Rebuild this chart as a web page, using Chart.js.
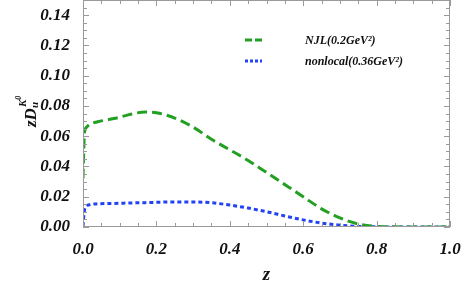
<!DOCTYPE html>
<html>
<head>
<meta charset="utf-8">
<script src="https://cdn.jsdelivr.net/npm/chart.js@4.4.0/dist/chart.umd.min.js"></script>
<style>
  html, body { margin: 0; padding: 0; background: #fff; }
  #wrap { width: 463px; height: 290px; }
</style>
</head>
<body>
<div id="wrap"><canvas id="mychart"></canvas></div>
<script>
// values
const zVals = [0, 0.002, 0.004, 0.01, 0.02, 0.04, 0.07, 0.1, 0.13, 0.17, 0.2, 0.25, 0.3, 0.35, 0.4, 0.45, 0.5, 0.55, 0.6, 0.65, 0.7, 0.75, 0.8, 0.85, 0.9, 1.0]
const njlVals = [0.032, 0.05, 0.062, 0.066, 0.068, 0.0695, 0.071, 0.0725, 0.0745, 0.076, 0.0755, 0.072, 0.066, 0.058, 0.051, 0.044, 0.036, 0.028, 0.020, 0.012, 0.006, 0.002, 0.0004, 0.0001, 0, 0]
const nonlocalVals = [0.0005, 0.007, 0.011, 0.0138, 0.0148, 0.0153, 0.0155, 0.0157, 0.0159, 0.0161, 0.0163, 0.0166, 0.0166, 0.016, 0.0145, 0.0125, 0.0101, 0.0073, 0.0047, 0.0026, 0.0012, 0.0004, 0.0001, 0, 0, 0]
const seriesNames = ['NJL(0.2GeV²)', 'nonlocal(0.36GeV²)']
const xLabelTicks = [0, 0.2, 0.4, 0.6, 0.8, 1.0]
const yLabelTicks = [0, 0.02, 0.04, 0.06, 0.08, 0.10, 0.12, 0.14]

const green = '#23a023'
const blue = '#2142f5'
const frameColor = '#9a9a9a'
const serif = '"Liberation Serif", "Times New Roman", serif'

function toPoints(ys) {
  return zVals.map(function (z, i) { return { x: z, y: ys[i] } })
}

function isLabelTick(v, list) {
  return list.some(function (t) { return Math.abs(t - v) < 1e-6 })
}

// frame with inward ticks, axis title with sub/superscript, legend
const decorPlugin = {
  id: 'decor',
  afterDraw(chart) {
    const ctx = chart.ctx
    const a = chart.chartArea
    const xs = chart.scales.x
    const ys = chart.scales.y
    ctx.save()
    ctx.strokeStyle = frameColor
    ctx.lineWidth = 1
    ctx.strokeRect(a.left + 0.5, a.top + 0.5, a.right - a.left - 1, a.bottom - a.top - 1)
    ctx.beginPath()
    for (let i = 0; i <= 20; i++) {
      const v = i * 0.05
      const px = Math.round(xs.getPixelForValue(v)) + 0.5
      const len = isLabelTick(v, xLabelTicks) ? 6 : 4
      ctx.moveTo(px, a.bottom); ctx.lineTo(px, a.bottom - len)
      ctx.moveTo(px, a.top); ctx.lineTo(px, a.top + len)
    }
    for (let i = 0; i <= 30; i++) {
      const v = i * 0.005
      const py = Math.round(ys.getPixelForValue(v)) + 0.5
      const len = isLabelTick(v, yLabelTicks) ? 6 : 4
      ctx.moveTo(a.left, py); ctx.lineTo(a.left + len, py)
      ctx.moveTo(a.right, py); ctx.lineTo(a.right - len, py)
    }
    ctx.stroke()

    // y title: z D_u^{K^0}
    ctx.fillStyle = '#111'
    ctx.translate(36, 127)
    ctx.rotate(-Math.PI / 2)
    ctx.textBaseline = 'alphabetic'
    ctx.textAlign = 'left'
    let x = 0
    ctx.font = 'italic bold 17px ' + serif
    ctx.fillText('zD', x, 0)
    x += ctx.measureText('zD').width
    ctx.font = 'italic bold 11px ' + serif
    ctx.fillText('u', x, 2)
    ctx.fillText('K', x + 1, -10)
    const kw = ctx.measureText('K').width
    ctx.font = 'italic bold 8px ' + serif
    ctx.fillText('0', x + 1 + kw, -15)
    ctx.setTransform(1, 0, 0, 1, 0, 0)

    // legend
    const rows = [
      { y: 40, color: green, dash: [7, 3], name: seriesNames[0] },
      { y: 61, color: blue, dash: [3, 2], name: seriesNames[1] }
    ]
    rows.forEach(function (r) {
      ctx.strokeStyle = r.color
      ctx.lineWidth = 3
      ctx.setLineDash(r.dash)
      ctx.beginPath()
      ctx.moveTo(245, r.y); ctx.lineTo(262, r.y)
      ctx.stroke()
      ctx.setLineDash([])
      ctx.fillStyle = '#111'
      ctx.font = 'italic bold 12px ' + serif
      ctx.textBaseline = 'middle'
      ctx.fillText(r.name, 305, r.y + 1)
    })
    ctx.restore()
  }
}

new Chart(document.getElementById('mychart'), {
  type: 'line',
  data: {
    datasets: [{
      label: seriesNames[0],
      data: toPoints(njlVals),
      borderColor: green,
      borderWidth: 3,
      borderDash: [10, 5],
      pointRadius: 0,
      cubicInterpolationMode: 'monotone',
      fill: false
    }, {
      label: seriesNames[1],
      data: toPoints(nonlocalVals),
      borderColor: blue,
      borderWidth: 3,
      borderDash: [4, 3],
      pointRadius: 0,
      cubicInterpolationMode: 'monotone',
      fill: false
    }]
  },
  options: {
    responsive: true,
    maintainAspectRatio: false,
    animation: false,
    layout: { padding: { left: 0, right: 13, top: 0, bottom: 0 } },
    plugins: { legend: { display: false }, tooltip: { enabled: false } },
    scales: {
      x: {
        type: 'linear',
        min: 0,
        max: 1,
        grid: { display: false },
        border: { display: false },
        afterFit: function (s) { s.height = 63; s.paddingLeft = 0; s.paddingRight = 0 },
        afterBuildTicks: function (s) { s.ticks = xLabelTicks.map(function (v) { return { value: v } }) },
        ticks: {
          color: '#111',
          padding: 4,
          maxRotation: 0,
          font: { family: serif, size: 17, style: 'italic', weight: 'bold' },
          callback: function (v) { return v.toFixed(1) }
        },
        title: {
          display: true,
          text: 'z',
          color: '#111',
          padding: { top: 10 },
          font: { family: serif, size: 19, style: 'italic', weight: 'bold' }
        }
      },
      y: {
        type: 'linear',
        min: 0,
        max: 0.15,
        grid: { display: false },
        border: { display: false },
        afterFit: function (s) { s.width = 83; s.paddingTop = 0; s.paddingBottom = 0 },
        afterBuildTicks: function (s) { s.ticks = yLabelTicks.map(function (v) { return { value: v } }) },
        ticks: {
          color: '#111',
          padding: 5,
          font: { family: serif, size: 17, style: 'italic', weight: 'bold' },
          callback: function (v) { return v.toFixed(2) }
        }
      }
    }
  },
  plugins: [decorPlugin]
})
</script>
</body>
</html>
